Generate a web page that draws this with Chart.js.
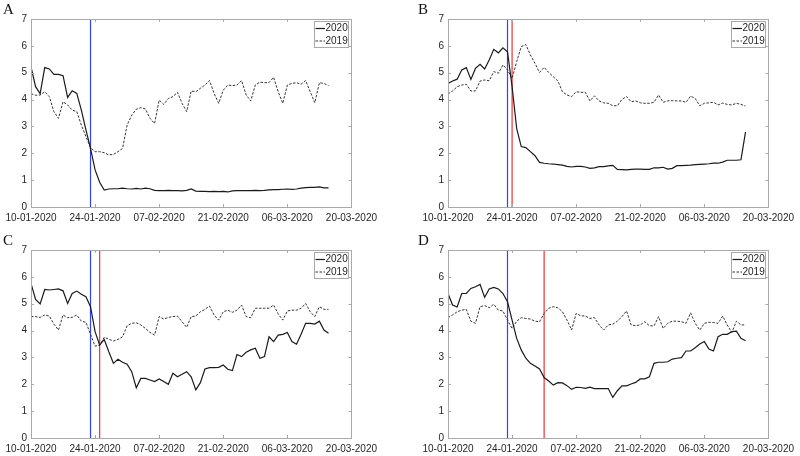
<!DOCTYPE html>
<html lang="en">
<head>
  <meta charset="UTF-8" />
  <title>2020 vs 2019</title>
  <script src="https://cdn.jsdelivr.net/npm/chart.js@4.4.1/dist/chart.umd.min.js"></script>
  <style>
    html, body { margin: 0; padding: 0; background: #fff; }
    body { width: 800px; height: 456px; position: relative; overflow: hidden; }
    .panel { position: absolute; width: 382px; height: 225px; }
  </style>
</head>
<body>
  <div class="panel" style="left:0;top:0"><canvas id="chartA" width="382" height="225"></canvas></div>
  <div class="panel" style="left:417px;top:0"><canvas id="chartB" width="382" height="225"></canvas></div>
  <div class="panel" style="left:0;top:231px"><canvas id="chartC" width="382" height="225"></canvas></div>
  <div class="panel" style="left:417px;top:231px"><canvas id="chartD" width="382" height="225"></canvas></div>

  <script>
  // x = days since 10-01-2020
  const tickDays  = [0, 14, 28, 42, 56, 70];
  const tickDates = ['10-01-2020', '24-01-2020', '07-02-2020', '21-02-2020', '06-03-2020', '20-03-2020'];
  const yTicks    = [0, 1, 2, 3, 4, 5, 6, 7];

  const a2020 = [5.22,4.48,4.22,5.19,5.14,4.94,4.94,4.89,4.08,4.33,4.23,3.61,2.87,2.18,1.38,0.92,0.63,0.67,0.68,0.68,
                 0.70,0.68,0.67,0.69,0.67,0.70,0.68,0.62,0.61,0.61,0.62,0.61,0.61,0.60,0.62,0.67,0.59,0.58,0.58,0.57,
                 0.58,0.57,0.58,0.56,0.60,0.61,0.61,0.61,0.61,0.62,0.61,0.62,0.64,0.65,0.65,0.66,0.67,0.66,0.67,0.70,
                 0.72,0.73,0.73,0.75,0.71,0.71];
  const a2019 = [4.22,4.16,4.17,4.29,4.11,3.55,3.30,3.92,3.80,3.61,3.55,3.05,2.62,2.21,2.06,2.06,2.02,1.94,1.96,2.06,
                 2.18,3.05,3.42,3.64,3.70,3.65,3.30,3.11,3.98,3.82,4.04,4.11,4.27,3.86,3.55,4.32,4.29,4.42,4.54,4.71,
                 4.23,3.86,4.35,4.54,4.52,4.54,4.71,4.17,3.95,4.54,4.65,4.63,4.63,4.83,4.29,3.86,4.54,4.60,4.63,4.57,
                 4.71,4.29,3.88,4.63,4.60,4.52];

  const b2020 = [4.60,4.69,4.76,5.10,5.19,4.75,5.16,5.31,5.14,5.47,5.87,5.74,5.93,5.78,4.48,2.93,2.25,2.21,2.06,1.91,
                 1.66,1.63,1.61,1.60,1.58,1.56,1.51,1.49,1.51,1.51,1.49,1.44,1.46,1.50,1.50,1.53,1.55,1.40,1.39,1.38,
                 1.40,1.41,1.41,1.40,1.40,1.46,1.46,1.48,1.41,1.44,1.54,1.54,1.55,1.56,1.58,1.59,1.60,1.61,1.63,1.63,
                 1.67,1.74,1.74,1.74,1.76,2.80];
  const b2019 = [4.21,4.32,4.48,4.54,4.57,4.32,4.32,4.69,4.73,4.70,5.04,4.98,5.29,5.10,4.79,5.41,5.97,6.05,5.66,5.35,
                 5.01,5.20,5.01,4.85,4.69,4.29,4.17,4.11,4.29,4.27,4.27,3.95,4.14,3.95,3.88,3.86,3.77,3.77,4.01,4.11,
                 3.92,3.95,3.88,3.86,3.86,3.90,4.17,3.90,3.95,3.96,3.95,3.95,3.90,4.13,4.04,3.77,3.86,3.88,3.90,3.80,
                 3.87,3.82,3.80,3.86,3.82,3.76];

  const c2020 = [5.76,5.16,4.99,5.53,5.51,5.53,5.55,5.48,5.01,5.38,5.47,5.35,5.26,4.89,3.96,3.46,3.67,3.21,2.78,2.93,
                 2.82,2.75,2.47,1.87,2.22,2.22,2.16,2.10,2.20,2.10,2.00,2.41,2.28,2.37,2.47,2.28,1.79,2.06,2.57,2.62,
                 2.62,2.63,2.72,2.56,2.51,3.11,3.03,3.19,3.28,3.34,2.97,3.03,3.77,3.59,3.83,3.86,3.93,3.59,3.49,3.86,
                 4.27,4.27,4.24,4.35,4.02,3.90];
  const c2019 = [4.52,4.52,4.49,4.58,4.54,4.24,4.02,4.58,4.48,4.49,4.58,4.35,4.31,3.86,3.42,3.46,3.75,3.68,3.61,3.67,
                 3.77,4.18,4.27,4.29,4.21,4.08,3.93,3.83,4.52,4.43,4.49,4.52,4.54,4.33,4.12,4.52,4.54,4.70,4.79,4.91,
                 4.58,4.39,4.70,4.76,4.68,4.76,4.95,4.52,4.48,4.83,4.83,4.83,4.83,4.95,4.62,4.39,4.73,4.76,4.76,4.83,
                 5.01,4.70,4.52,4.89,4.79,4.79];

  const d2020 = [5.38,4.95,4.88,5.38,5.38,5.57,5.63,5.72,5.24,5.55,5.61,5.55,5.38,5.07,4.39,3.71,3.28,2.97,2.78,2.68,
                 2.57,2.25,2.12,1.97,2.06,2.05,1.95,1.81,1.89,1.88,1.85,1.89,1.84,1.84,1.84,1.84,1.51,1.76,1.94,1.94,
                 2.01,2.07,2.20,2.20,2.28,2.78,2.82,2.82,2.84,2.94,2.97,2.99,3.24,3.24,3.36,3.50,3.59,3.31,3.24,3.77,
                 3.86,3.86,3.96,3.98,3.71,3.62];
  const d2019 = [4.48,4.58,4.70,4.76,4.79,4.35,4.27,4.89,4.93,4.85,4.98,4.76,4.73,4.39,4.08,4.35,4.48,4.45,4.43,4.35,
                 4.33,4.64,4.83,4.89,4.85,4.70,4.39,4.02,4.64,4.55,4.54,4.45,4.48,4.21,4.02,4.21,4.24,4.35,4.52,4.73,
                 4.21,4.18,4.21,4.33,4.18,4.17,4.52,4.08,4.27,4.35,4.35,4.33,4.27,4.66,4.27,4.02,4.27,4.31,4.30,4.27,
                 4.54,4.21,3.93,4.35,4.21,4.21];

  // event markers (days since 10-01-2020): first blue, second red
  const eventsA = [13];
  const eventsB = [13, 14];
  const eventsC = [13, 15];
  const eventsD = [13, 21];
  const eventColors = ['#3344ee', '#ee3333'];

  const seriesNames = ['2020', '2019'];
  const AXIS = '#a9a9a9', TXT = '#262626';
  const FONT = '"Liberation Sans", Arial, sans-serif';

  const toPts = vals => vals.map((v, i) => ({ x: i, y: v }));

  // MATLAB-like box with inward ticks, legend box and panel letter
  const framePlugin = {
    id: 'frame',
    afterDraw(chart, args, opts) {
      const { ctx, chartArea: a, scales: { x, y } } = chart;
      ctx.save();
      ctx.strokeStyle = AXIS; ctx.lineWidth = 1;
      ctx.strokeRect(Math.round(a.left) + 0.5, Math.round(a.top) + 0.5,
                     Math.round(a.right - a.left), Math.round(a.bottom - a.top));
      ctx.beginPath();
      tickDays.forEach(d => {
        const px = Math.round(x.getPixelForValue(d)) + 0.5;
        ctx.moveTo(px, a.bottom); ctx.lineTo(px, a.bottom - 3);
        ctx.moveTo(px, a.top);    ctx.lineTo(px, a.top + 3);
      });
      yTicks.forEach(v => {
        const py = Math.round(y.getPixelForValue(v)) + 0.5;
        ctx.moveTo(a.left, py);  ctx.lineTo(a.left + 3, py);
        ctx.moveTo(a.right, py); ctx.lineTo(a.right - 3, py);
      });
      ctx.stroke();

      // legend
      const bx = Math.round(a.right) - 37, by = Math.round(a.top) + 2;
      ctx.fillStyle = '#fff';
      ctx.fillRect(bx, by, 34, 26);
      ctx.strokeRect(bx + 0.5, by + 0.5, 34, 26);
      ctx.font = '10px ' + FONT;
      ctx.textBaseline = 'middle';
      ctx.fillStyle = TXT;
      [[], [2.5, 1.5]].forEach((dash, i) => {
        const ly = by + 7.5 + i * 12.5;
        ctx.beginPath();
        ctx.setLineDash(dash);
        ctx.strokeStyle = i ? '#333' : '#1a1a1a';
        ctx.lineWidth = i ? 1 : 1.2;
        ctx.moveTo(bx + 1.5, ly); ctx.lineTo(bx + 11, ly);
        ctx.stroke();
        ctx.fillText(seriesNames[i], bx + 11.5, ly);
      });
      ctx.setLineDash([]);

      // panel letter
      ctx.font = '15px "Liberation Serif", "Times New Roman", serif';
      ctx.textBaseline = 'alphabetic';
      ctx.fillStyle = '#111';
      ctx.fillText(opts.letter, opts.letterX, 13.5);
      ctx.restore();
    }
  };

  function makePanel(id, letter, letterX, v2020, v2019, events) {
    const eventSets = events.map((d, i) => ({
      data: [{ x: d, y: 0 }, { x: d, y: 7 }],
      borderColor: eventColors[i], borderWidth: 1.2, pointRadius: 0
    }));
    new Chart(document.getElementById(id), {
      type: 'line',
      data: {
        datasets: [
          { label: seriesNames[0], data: toPts(v2020), borderColor: '#1a1a1a', borderWidth: 1.2, pointRadius: 0, tension: 0 },
          { label: seriesNames[1], data: toPts(v2019), borderColor: '#333', borderWidth: 1, borderDash: [2.5, 1.5], pointRadius: 0, tension: 0 },
          ...eventSets
        ]
      },
      options: {
        responsive: false,
        animation: false,
        layout: { padding: { top: 19, right: 28, left: 0, bottom: 0 } },
        plugins: { legend: { display: false }, tooltip: { enabled: false }, frame: { letter, letterX } },
        scales: {
          x: {
            type: 'linear', min: 0, max: 70,
            afterBuildTicks: s => { s.ticks = tickDays.map(v => ({ value: v })); },
            afterFit: s => { s.height = 18; },
            border: { display: false },
            grid: { display: false, drawTicks: false, tickLength: 0 },
            ticks: {
              autoSkip: false, maxRotation: 0, padding: 5, color: TXT,
              font: { family: FONT, size: 10 },
              callback: v => tickDates[tickDays.indexOf(v)]
            }
          },
          y: {
            min: 0, max: 7,
            afterBuildTicks: s => { s.ticks = yTicks.map(v => ({ value: v })); },
            afterFit: s => { s.width = 31; },
            border: { display: false },
            grid: { display: false, drawTicks: false, tickLength: 0 },
            ticks: { padding: 4, color: TXT, font: { family: FONT, size: 10 } }
          }
        }
      },
      plugins: [framePlugin]
    });
  }

  makePanel('chartA', 'A', 3, a2020, a2019, eventsA);
  makePanel('chartB', 'B', 1, b2020, b2019, eventsB);
  makePanel('chartC', 'C', 3, c2020, c2019, eventsC);
  makePanel('chartD', 'D', 1, d2020, d2019, eventsD);
  </script>
</body>
</html>
